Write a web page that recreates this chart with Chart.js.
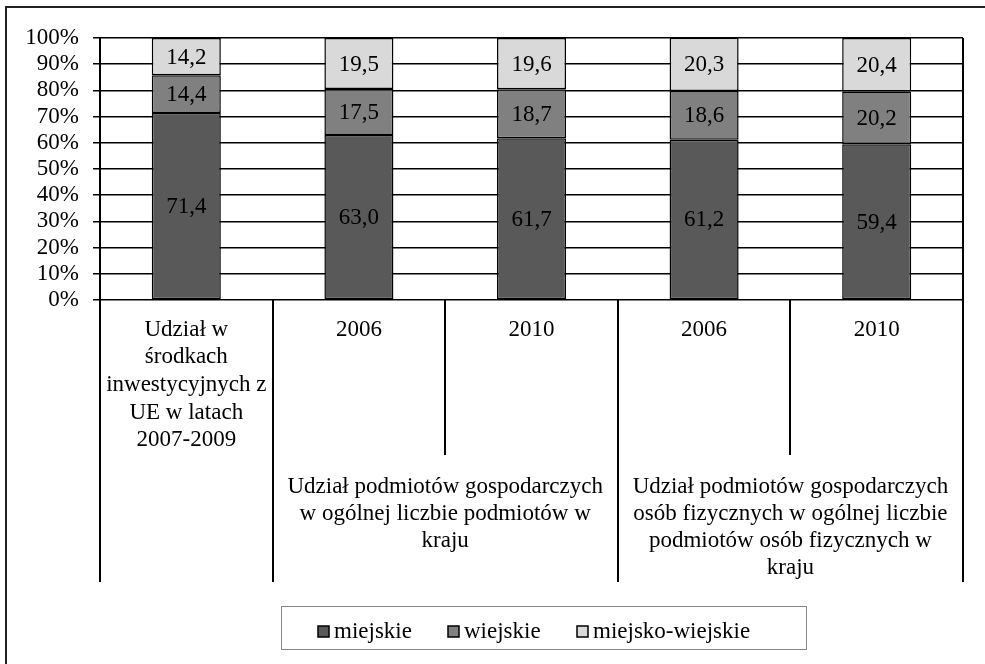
<!DOCTYPE html>
<html>
<head>
<meta charset="utf-8">
<script src="https://cdn.jsdelivr.net/npm/chart.js@4"></script>
<style>
  html, body { margin: 0; padding: 0; background: #fff; }
  #wrap { width: 985px; height: 664px; }
</style>
</head>
<body>
<div id="wrap"><canvas id="chart" width="985" height="664"></canvas></div>
<script>
//categories (first level) and group labels (second level)
const categories = [
	["Udział w", "środkach", "inwestycyjnych z", "UE w latach", "2007-2009"],
	"2006", "2010", "2006", "2010"
];
const groups = [
	{ from: 1, to: 3, lines: ["Udział podmiotów gospodarczych", "w ogólnej liczbie podmiotów w", "kraju"] },
	{ from: 3, to: 5, lines: ["Udział podmiotów gospodarczych", "osób fizycznych w ogólnej liczbie", "podmiotów osób fizycznych w", "kraju"] }
];

//series values
const miejskie = [71.4, 63.0, 61.7, 61.2, 59.4];
const wiejskie = [14.4, 17.5, 18.7, 18.6, 20.2];
const miejskoWiejskie = [14.2, 19.5, 19.6, 20.3, 20.4];
const yTicks = [0, 10, 20, 30, 40, 50, 60, 70, 80, 90, 100];

const FONT = '"Liberation Serif", "Times New Roman", serif';

//labels inside the bar segments + the frame, separators, group labels and legend
const extrasPlugin = {
	id: 'extras',
	afterDatasetsDraw(chart) {
		const ctx = chart.ctx;
		ctx.save();
		ctx.font = '23px ' + FONT;
		ctx.fillStyle = '#000';
		ctx.textAlign = 'center';
		ctx.textBaseline = 'middle';
		chart.data.datasets.forEach((ds, di) => {
			chart.getDatasetMeta(di).data.forEach((bar, i) => {
				const mid = (bar.y + bar.base) / 2;
				ctx.fillText(ds.data[i].toFixed(1).replace('.', ','), bar.x, mid + 1);
			});
		});
		ctx.restore();
	},
	afterDraw(chart) {
		const ctx = chart.ctx;
		const area = chart.chartArea;
		const n = categories.length;
		const step = (area.right - area.left) / n;
		ctx.save();

		//outer frame (top and left edge only)
		ctx.strokeStyle = '#222';
		ctx.lineWidth = 2;
		ctx.beginPath();
		ctx.moveTo(6, 664);
		ctx.lineTo(6, 7);
		ctx.lineTo(985, 7);
		ctx.stroke();

		//plot right edge
		ctx.strokeStyle = '#000';
		ctx.lineWidth = 2;
		ctx.beginPath();
		ctx.moveTo(area.right, area.top);
		ctx.lineTo(area.right, area.bottom);
		ctx.stroke();

		//category separators below the axis
		for (let i = 0; i <= n; i++) {
			const x = Math.round(area.left + i * step);
			const inner = groups.some(g => i > g.from && i < g.to);
			ctx.beginPath();
			ctx.moveTo(x, area.bottom);
			ctx.lineTo(x, inner ? 455 : 582);
			ctx.stroke();
		}

		//second level labels
		ctx.font = '23px ' + FONT;
		ctx.fillStyle = '#000';
		ctx.textAlign = 'center';
		ctx.textBaseline = 'middle';
		groups.forEach(g => {
			const cx = area.left + (g.from + g.to) / 2 * step;
			g.lines.forEach((line, li) => {
				ctx.fillText(line, cx, 487 + li * 27);
			});
		});

		//legend
		ctx.strokeStyle = '#888';
		ctx.lineWidth = 1;
		ctx.strokeRect(281.5, 606.5, 525, 43);
		const legendX = [318, 448, 577];
		chart.data.datasets.forEach((ds, di) => {
			ctx.fillStyle = ds.backgroundColor;
			ctx.fillRect(legendX[di], 626, 11, 11);
			ctx.strokeStyle = '#000';
			ctx.lineWidth = 1.5;
			ctx.strokeRect(legendX[di], 626, 11, 11);
			ctx.fillStyle = '#000';
			ctx.textAlign = 'left';
			ctx.fillText(ds.label, legendX[di] + 16, 632);
		});
		ctx.restore();
	}
};

const chartData = {
	labels: categories,
	datasets: [
		{ label: 'miejskie', data: miejskie, backgroundColor: '#595959' },
		{ label: 'wiejskie', data: wiejskie, backgroundColor: '#808080' },
		{ label: 'miejsko-wiejskie', data: miejskoWiejskie, backgroundColor: '#d9d9d9' }
	]
};
chartData.datasets.forEach(ds => {
	ds.borderColor = '#000';
	ds.borderWidth = 1.5;
	ds.borderSkipped = false;
	ds.categoryPercentage = 1;
	ds.barPercentage = 0.4;
});

const chartOptions = {
	responsive: false,
	animation: false,
	layout: {
		padding: { top: 38, right: 22, left: 0, bottom: 0 }
	},
	scales: {
		x: {
			stacked: true,
			afterFit: (scale) => { scale.height = 364; },
			grid: { display: false, drawTicks: false },
			border: { display: false },
			ticks: {
				color: '#000',
				padding: 16,
				maxRotation: 0,
				autoSkip: false,
				font: { family: FONT, size: 23, lineHeight: 1.2 }
			}
		},
		y: {
			stacked: true,
			min: 0,
			max: 100,
			afterFit: (scale) => { scale.width = 100; },
			afterBuildTicks: (scale) => { scale.ticks = yTicks.map(v => ({ value: v })); },
			grid: { color: '#000', lineWidth: 1.5, tickLength: 7 },
			border: { color: '#000', width: 2 },
			ticks: {
				color: '#000',
				padding: 14,
				autoSkip: false,
				stepSize: 10,
				font: { family: FONT, size: 23, lineHeight: 1 },
				callback: (v) => v + '%'
			}
		}
	},
	plugins: {
		legend: { display: false },
		tooltip: { enabled: false }
	}
};

new Chart(document.getElementById('chart'), {
	type: 'bar',
	data: chartData,
	options: chartOptions,
	plugins: [extrasPlugin]
});
</script>
</body>
</html>
